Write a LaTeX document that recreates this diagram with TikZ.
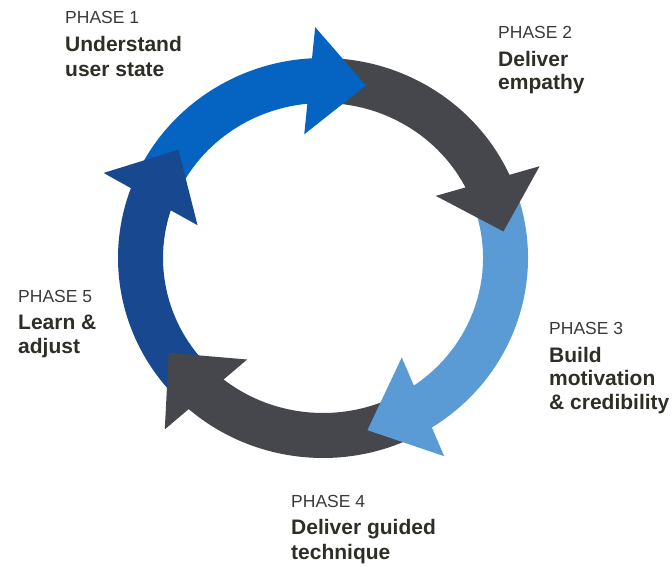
\documentclass[tikz,border=0pt]{standalone}
\usepackage{fontspec}
\setmainfont{Liberation Sans}
\definecolor{phaseblue}{HTML}{0563C1}
\definecolor{phasegrey}{HTML}{46474D}
\definecolor{phaselight}{HTML}{5B9BD5}
\definecolor{phasenavy}{HTML}{18488F}
\definecolor{labelgrey}{HTML}{3A3A3A}
\definecolor{labeldark}{HTML}{2E2E26}
\tikzset{
  phasetag/.style={anchor=base west, inner sep=0pt, text=labelgrey,
    font=\fontsize{17.5}{20}\selectfont},
  phasename/.style={anchor=base west, inner sep=0pt, text=labeldark,
    font=\fontsize{21}{24}\selectfont\bfseries},
}
% ring radii (x and y) of the outer edge, inner edge, arrow tip and barbs
\newcommand\ringOx{205}\newcommand\ringOy{200}
\newcommand\ringIx{160}\newcommand\ringIy{155}
\newcommand\ringMx{182.5}\newcommand\ringMy{177.5}
\newcommand\barbOx{236}\newcommand\barbOy{231}
\newcommand\barbIx{130}\newcommand\barbIy{125}
% shaft of one arc: colour, start angle, end angle
\newcommand\ringshaft[3]{%
  \fill[#1] (#2:\ringOx\space and \ringOy)
    arc[start angle=#2, end angle=#3, x radius=\ringOx, y radius=\ringOy]
    -- (#3:\ringIx\space and \ringIy)
    arc[start angle=#3, end angle=#2, x radius=\ringIx, y radius=\ringIy]
    -- cycle;}
% head of one arc: colour, base angle, tip angle
\newcommand\ringhead[3]{%
  \fill[#1] (#2-2.6:\barbOx\space and \barbOy) -- (#3:\ringMx\space and \ringMy)
    -- (#2+3.8:\barbIx\space and \barbIy) -- cycle;}
\begin{document}
\begin{tikzpicture}[x=1pt,y=1pt]
\useasboundingbox (0,0) rectangle (672,567);
\begin{scope}[shift={(323,309)}]
  % shafts first, so that every head lies over the next shaft
  \ringshaft{phaseblue}{156}{92}
  \ringshaft{phasegrey}{89}{24}
  \ringshaft{phaselight}{21}{-59}
  \ringshaft{phasegrey}{-61.5}{-132}
  \ringshaft{phasenavy}{-134.5}{-201.5}
  % heads
  \ringhead{phaseblue}{94.5}{76.4}
  \ringhead{phasegrey}{26}{8.6}
  \ringhead{phaselight}{-56.5}{-75.9}
  \ringhead{phasegrey}{-129.5}{-147.7}
  \ringhead{phasenavy}{-199}{-217.6}
\end{scope}
% phase labels
\node[phasetag]  (p1)  at (65,543) {PHASE 1};
\node[phasename] (p1a) at (65,515) {Understand};
\node[phasename] (p1b) at (65,490) {user state};
\node[phasetag]  (p2)  at (498,528) {PHASE 2};
\node[phasename] (p2a) at (498,500) {Deliver};
\node[phasename] (p2b) at (498,477) {empathy};
\node[phasetag]  (p3)  at (549,232) {PHASE 3};
\node[phasename] (p3a) at (549,204) {Build};
\node[phasename] (p3b) at (549,181) {motivation};
\node[phasename] (p3c) at (549,157) {\& credibility};
\node[phasetag]  (p4)  at (291,59) {PHASE 4};
\node[phasename] (p4a) at (291,32) {Deliver guided};
\node[phasename] (p4b) at (291,7) {technique};
\node[phasetag]  (p5)  at (18,264) {PHASE 5};
\node[phasename] (p5a) at (18,237) {Learn \&};
\node[phasename] (p5b) at (18,213) {adjust};
\end{tikzpicture}
\end{document}
